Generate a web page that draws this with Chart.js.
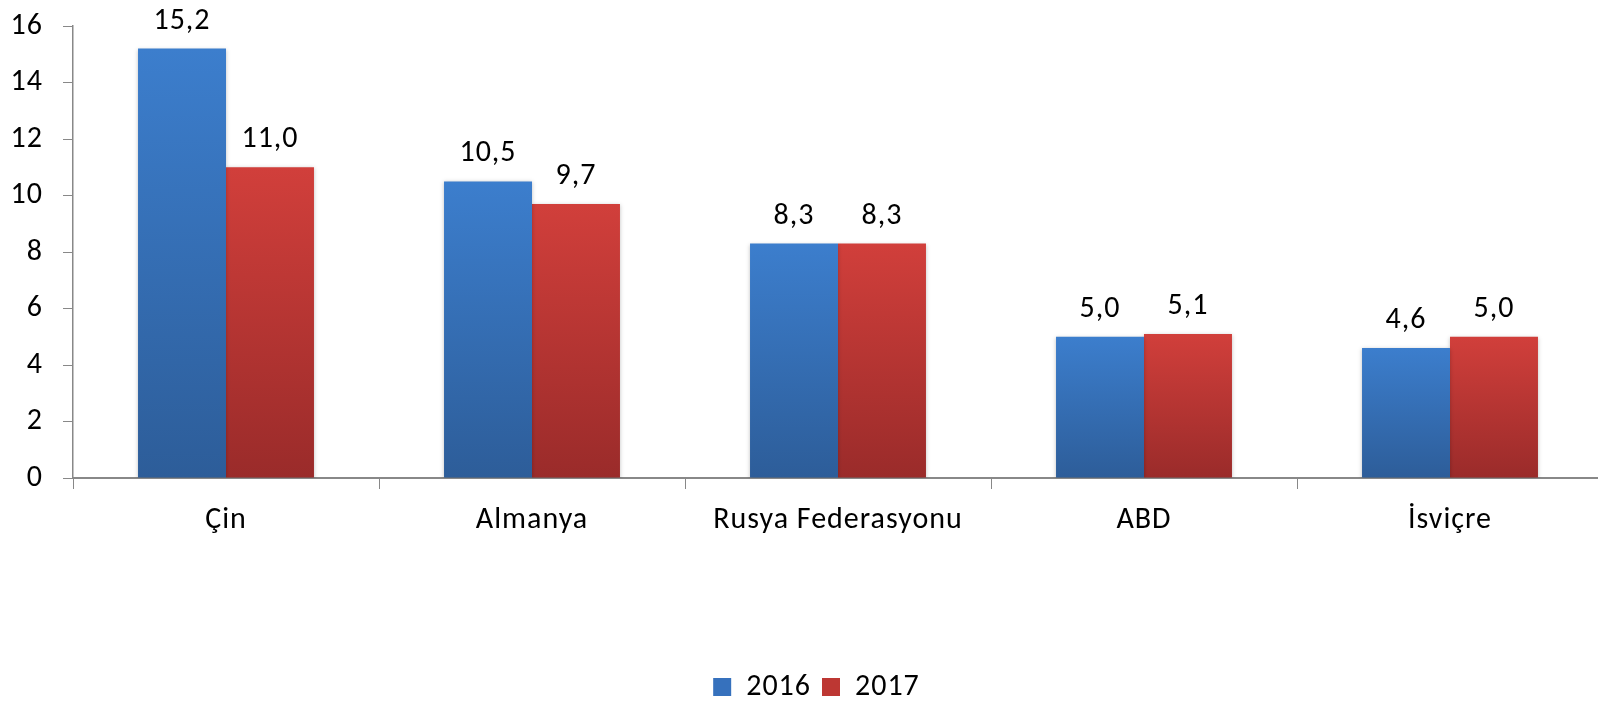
<!DOCTYPE html>
<html lang="tr">
<head>
  <meta charset="UTF-8">
  <title>2016 - 2017</title>
  <script src="https://cdn.jsdelivr.net/npm/chart.js"></script>
  <style>
    html, body { margin: 0; padding: 0; background: #fff; overflow: hidden; }
    #wrap { width: 1604px; height: 712px; }
  </style>
</head>
<body>
  <div id="wrap"><canvas id="chart" width="1604" height="712"></canvas></div>

  <script>
    // data
    var countries = ['Çin', 'Almanya', 'Rusya Federasyonu', 'ABD', 'İsviçre'];
    var values2016 = [15.2, 10.5, 8.3, 5.0, 4.6];
    var values2017 = [11.0, 9.7, 8.3, 5.1, 5.0];
    var yTicks = [0, 2, 4, 6, 8, 10, 12, 14, 16];

    var FONT = "'Carlito', 'Open Sans', sans-serif";
    var SIZE = 30;

    // per-bar vertical gradient (light at top, dark at bottom)
    function barGradient(top, bottom) {
      return function (c) {
        var chart = c.chart;
        if (!chart.chartArea || c.type !== 'data') return top;
        var y = chart.scales.y;
        var g = chart.ctx.createLinearGradient(0, y.getPixelForValue(c.raw), 0, y.getPixelForValue(0));
        g.addColorStop(0, top);
        g.addColorStop(1, bottom);
        return g;
      };
    }

    // slightly wider text, closer to the original rendering
    var spacing = {
      id: 'spacing',
      beforeLayout: function (chart) { chart.ctx.letterSpacing = '1px'; },
      beforeDraw: function (chart) { chart.ctx.letterSpacing = '1px'; }
    };

    // legend sits a little right of the canvas centre in the original
    var legendShift = {
      id: 'legendShift',
      afterLayout: function (chart) {
        chart.legend.left += 15;
        chart.legend.right += 15;
      }
    };

    // value labels above bars, comma as decimal mark
    var valueLabels = {
      id: 'valueLabels',
      afterDatasetsDraw: function (chart) {
        var ctx = chart.ctx;
        ctx.save();
        ctx.font = SIZE + 'px ' + FONT;
        ctx.fillStyle = '#000';
        ctx.textAlign = 'center';
        ctx.textBaseline = 'alphabetic';
        chart.data.datasets.forEach(function (ds, i) {
          chart.getDatasetMeta(i).data.forEach(function (bar, j) {
            ctx.fillText(ds.data[j].toFixed(1).replace('.', ','), bar.x, bar.y - 20);
          });
        });
        ctx.restore();
      }
    };

    // soft shadow behind bars
    var barShadow = {
      id: 'barShadow',
      beforeDatasetsDraw: function (chart) {
        var ctx = chart.ctx;
        ctx.save();
        ctx.shadowColor = 'rgba(0,0,0,0.25)';
        ctx.shadowBlur = 4;
        ctx.shadowOffsetX = 0;
        ctx.shadowOffsetY = 1;
      },
      afterDatasetsDraw: function (chart) {
        chart.ctx.restore();
      }
    };

    var ctx = document.getElementById('chart').getContext('2d');
    var chart = new Chart(ctx, {
      type: 'bar',
      data: {
        labels: countries,
        datasets: [
          {
            label: '2016',
            data: values2016,
            backgroundColor: barGradient('#3c7ecd', '#2d5d99'),
            borderWidth: 0,
            categoryPercentage: 0.575,
            barPercentage: 1
          },
          {
            label: '2017',
            data: values2017,
            backgroundColor: barGradient('#d13f3b', '#9a2b2a'),
            borderWidth: 0,
            categoryPercentage: 0.575,
            barPercentage: 1
          }
        ]
      },
      options: {
        responsive: false,
        animation: false,
        layout: { padding: { top: 26, right: 1, bottom: 0, left: 0 } },
        plugins: {
          tooltip: { enabled: false },
          legend: {
            position: 'bottom',
            labels: {
              font: { family: FONT, size: SIZE },
              color: '#000',
              boxWidth: 18,
              boxHeight: 18,
              padding: 11,
              generateLabels: function (chart) {
                var fills = ['#3671bd', '#bd3733'];
                return chart.data.datasets.map(function (ds, i) {
                  return { text: ds.label, fillStyle: fills[i], strokeStyle: fills[i], lineWidth: 0, datasetIndex: i };
                });
              }
            }
          }
        },
        scales: {
          x: {
            grid: { display: true, drawOnChartArea: false, drawTicks: true, tickLength: 11, color: '#888', offset: true },
            border: { color: '#888', width: 2 },
            ticks: { font: { family: FONT, size: SIZE }, color: '#000', padding: 13, maxRotation: 0 },
            afterFit: function (scale) { scale.height = 183; }
          },
          y: {
            min: 0,
            max: 16,
            afterBuildTicks: function (scale) {
              scale.ticks = yTicks.map(function (v) { return { value: v }; });
            },
            grid: { display: true, drawOnChartArea: false, drawTicks: true, tickLength: 10, color: '#888' },
            border: { color: '#888', width: 1.5 },
            ticks: { font: { family: FONT, size: SIZE }, color: '#000', padding: 20 },
            afterFit: function (scale) {
              scale.width = 73;
              scale.paddingTop = 0;
              scale.paddingBottom = 0;
            }
          }
        }
      },
      plugins: [spacing, legendShift, barShadow, valueLabels]
    });
  </script>
</body>
</html>
